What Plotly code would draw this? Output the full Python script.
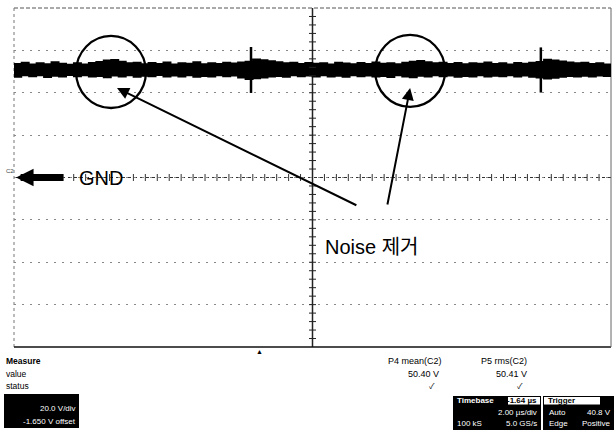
import plotly.graph_objects as go

# ---------------- data read from the screen capture ----------------
# time axis in microseconds (2 us/div, 10 divisions), voltage in V (20 V/div)
env_t = [-10.0, -9.75, -9.5, -9.25, -9.0, -8.75, -8.5, -8.25, -8.0,
         -7.75, -7.5, -7.25, -7.0, -6.75, -6.5, -6.25, -6.0, -5.75,
         -5.5, -5.25, -5.0, -4.75, -4.5, -4.25, -4.0, -3.75, -3.5,
         -3.25, -3.0, -2.75, -2.5, -2.25, -2.0, -1.75, -1.5, -1.25,
         -1.0, -0.75, -0.5, -0.25, 0.0,
         0.25, 0.5, 0.75, 1.0, 1.25, 1.5, 1.75, 2.0, 2.25,
         2.5, 2.75, 3.0, 3.25, 3.5, 3.75, 4.0, 4.25, 4.5,
         4.75, 5.0, 5.25, 5.5, 5.75, 6.0, 6.25, 6.5, 6.75,
         7.0, 7.25, 7.5, 7.75, 8.0, 8.25, 8.5, 8.75, 9.0,
         9.25, 9.5, 9.75, 10.0]

env_upper = [53.7, 54.3, 53.4, 54.0, 53.6, 54.5, 53.8, 53.3, 54.1,
             53.5, 54.2, 54.6, 55.3, 55.6, 54.8, 54.0, 54.3, 53.6,
             54.2, 53.7, 54.4, 53.5, 54.0, 53.8, 54.5, 53.6, 54.1,
             53.7, 54.3, 53.9, 54.4, 54.7, 55.8, 55.4, 55.0, 54.5,
             54.0, 54.3, 53.7, 54.2, 53.8,
             54.1, 53.5, 54.3, 53.9, 53.6, 54.2, 53.7, 54.4, 53.8,
             54.1, 53.6, 54.3, 54.8, 55.1, 54.5, 54.0, 54.3, 53.7,
             54.2, 53.6, 54.0, 53.8, 54.4, 53.7, 54.1, 53.5, 54.2,
             53.8, 54.3, 54.6, 55.7, 55.3, 54.9, 54.4, 54.0, 54.3,
             53.7, 54.0, 53.5, 53.8]

env_lower = [48.0, 47.4, 48.2, 47.7, 48.1, 47.3, 47.9, 47.6, 48.3,
             47.7, 48.1, 47.5, 47.8, 47.2, 48.0, 47.6, 48.2, 47.4,
             47.9, 47.7, 48.3, 47.5, 48.0, 47.6, 48.1, 47.4, 47.8,
             47.6, 48.2, 47.7, 48.0, 47.1, 46.4, 46.7, 47.1, 47.5,
             47.8, 47.4, 48.1, 47.7, 48.0,
             47.5, 48.2, 47.6, 47.9, 47.4, 48.1, 47.7, 48.0, 47.5,
             47.8, 47.3, 48.1, 47.6, 47.2, 47.9, 47.5, 48.1, 47.7,
             48.0, 47.4, 47.8, 47.6, 48.2, 47.5, 47.9, 47.7, 48.1,
             47.6, 48.0, 47.4, 47.1, 46.6, 47.0, 47.4, 47.8, 47.5,
             47.9, 47.6, 48.0, 47.8]

spike_t = [-2.06, 7.65]
spike_hi = [61.6, 61.4]
spike_lo = [39.9, 40.1]

meas_names = ["P4 mean(C2)", "P5 rms(C2)"]
meas_values = ["50.40 V", "50.41 V"]

FONT = "Liberation Sans, Arial, Noto Sans CJK KR, sans-serif"

# ---------------- figure ----------------
fig = go.Figure()

# noise band of the trace
fig.add_trace(go.Scatter(
    x=env_t + env_t[::-1], y=env_upper + env_lower[::-1],
    mode="lines", fill="toself", fillcolor="black", line_shape="hv",
    line=dict(color="black", width=1.5), hoverinfo="skip"))

# switching spikes
for t, hi, lo in zip(spike_t, spike_hi, spike_lo):
    fig.add_trace(go.Scatter(x=[t, t], y=[lo, hi], mode="lines",
                             line=dict(color="black", width=2.5), hoverinfo="skip"))

# centre-axis tick marks (graticule decoration)
vt = [v * 4 for v in range(-19, 20) if v != 0]
ht = [v * 0.4 for v in range(-24, 25) if v != 0]
fig.add_trace(go.Scatter(x=[0] * len(vt), y=vt, mode="markers",
                         marker=dict(symbol="line-ew", size=5,
                                     line=dict(color="#222", width=1)),
                         hoverinfo="skip"))
fig.add_trace(go.Scatter(x=ht, y=[0] * len(ht), mode="markers",
                         marker=dict(symbol="line-ns", size=5,
                                     line=dict(color="#333", width=1)),
                         hoverinfo="skip"))

shapes = [
    # centre vertical axis
    dict(type="line", xref="x", yref="paper", x0=0, x1=0, y0=0, y1=1,
         line=dict(color="#222", width=1.5), layer="below"),
    # GND / centre horizontal axis
    dict(type="line", xref="paper", yref="y", x0=0, x1=1, y0=0, y1=0,
         line=dict(color="#333", width=1, dash="dot"), layer="below"),
    # borders
    dict(type="line", xref="paper", yref="paper", x0=0, x1=1, y0=1, y1=1,
         line=dict(color="#555", width=1, dash="4px,2px"), layer="below"),
    dict(type="line", xref="paper", yref="paper", x0=0, x1=0, y0=0, y1=1,
         line=dict(color="#777", width=1, dash="3px,3px"), layer="below"),
    dict(type="line", xref="paper", yref="paper", x0=0, x1=1, y0=0, y1=0,
         line=dict(color="#111", width=1.5), layer="below"),
    dict(type="line", xref="paper", yref="paper", x0=1, x1=1, y0=0, y1=1,
         line=dict(color="#666", width=1), layer="below"),
    # circles marking the noise
    dict(type="circle", xref="x", yref="y", x0=-7.92, x1=-5.58, y0=32.8, y1=66.8,
         line=dict(color="black", width=2.3)),
    dict(type="circle", xref="x", yref="y", x0=2.10, x1=4.44, y0=33.3, y1=67.3,
         line=dict(color="black", width=2.3)),
]


def py(p):
    return (347 - p) / 339.0


def px(p):
    return (p - 14) / 597.0


# bottom info boxes
shapes += [
    dict(type="rect", xref="paper", yref="paper", x0=px(4), x1=px(79), y0=py(428), y1=py(394),
         fillcolor="black", line=dict(width=0)),
    dict(type="rect", xref="paper", yref="paper", x0=px(453), x1=px(541), y0=py(430), y1=py(396),
         fillcolor="black", line=dict(width=0)),
    dict(type="rect", xref="paper", yref="paper", x0=px(508), x1=px(540), y0=py(404.5), y1=py(397),
         fillcolor="white", line=dict(width=0)),
    dict(type="rect", xref="paper", yref="paper", x0=px(543), x1=px(614), y0=py(430), y1=py(396),
         fillcolor="black", line=dict(width=0)),
    dict(type="rect", xref="paper", yref="paper", x0=px(544), x1=px(600), y0=py(404.5), y1=py(397),
         fillcolor="white", line=dict(width=0)),
]

ann = []


def txt(x, y, s, size=8, color="black", anchor="left", bold=False):
    ann.append(dict(xref="paper", yref="paper", x=px(x), y=py(y), text=("<b>%s</b>" % s) if bold else s,
                    showarrow=False, xanchor=anchor, yanchor="middle",
                    font=dict(family=FONT, size=size, color=color)))


# arrows to the circles
ann.append(dict(xref="x", yref="y", axref="x", ayref="y", x=-6.55, y=42.2, ax=1.52, ay=-13.45,
                text="", showarrow=True, arrowhead=2, arrowsize=1.2, arrowwidth=2, arrowcolor="black"))
ann.append(dict(xref="x", yref="y", axref="x", ayref="y", x=3.27, y=42.2, ax=2.50, ay=-13.45,
                text="", showarrow=True, arrowhead=2, arrowsize=1.2, arrowwidth=2, arrowcolor="black"))
# GND arrow
ann.append(dict(xref="x", yref="y", x=-9.93, y=0, ax=49, ay=0, text="", showarrow=True,
                arrowhead=2, arrowsize=0.5, arrowwidth=7, arrowcolor="black"))
ann.append(dict(xref="x", yref="y", x=-7.89, y=0, text="GND", showarrow=False, xanchor="left",
                yanchor="middle", font=dict(family=FONT, size=20, color="black")))
ann.append(dict(xref="x", yref="y", x=0.35, y=-32.8, text="Noise 제거", showarrow=False,
                xanchor="left", yanchor="middle", font=dict(family=FONT, size=20, color="black")))
ann.append(dict(xref="paper", yref="y", x=px(4), y=3, text="C2", showarrow=False, xanchor="left",
                yanchor="middle", font=dict(family=FONT, size=6, color="#444")))

# trigger position marker
txt(259, 351, "▲", size=7, anchor="center")

# measurement area
txt(4, 361, "Measure", size=8.5, bold=True)
txt(4, 374, "value", size=8.5)
txt(4, 386, "status", size=8.5)
txt(78, 409, "20.0 V/div", size=8, color="white", anchor="right")
txt(78, 421, "-1.650 V offset", size=8, color="white", anchor="right")

name_x = [386, 479]
val_x = [441, 529]
for nm, vl, nx, vx in zip(meas_names, meas_values, name_x, val_x):
    txt(nx, 361, nm, size=9)
    txt(vx, 374, vl, size=9, anchor="right")
    txt(vx - 4, 386, "✓", size=8, anchor="right")

txt(455, 400.5, "Timebase", size=8, color="white", bold=True)
txt(539, 400.5, "-1.64 µs", size=8, color="black", anchor="right", bold=True)
txt(539, 412, "2.00 µs/div", size=8, color="white", anchor="right")
txt(455, 423, "100 kS", size=8, color="white")
txt(539, 423, "5.0 GS/s", size=8, color="white", anchor="right")
txt(546, 400.5, "Trigger", size=8, color="black", bold=True)
txt(547, 412, "Auto", size=8, color="white")
txt(613, 412, "40.8 V", size=8, color="white", anchor="right")
txt(547, 423, "Edge", size=8, color="white")
txt(613, 423, "Positive", size=8, color="white", anchor="right")

fig.update_layout(
    width=614, height=430,
    margin=dict(l=14, r=3, t=8, b=83, pad=0),
    plot_bgcolor="white", paper_bgcolor="white",
    showlegend=False,
    shapes=shapes, annotations=ann,
    xaxis=dict(range=[-10, 10], showgrid=False, zeroline=False, showticklabels=False,
               ticks="", showline=False, fixedrange=True),
    yaxis=dict(range=[-80, 80], dtick=20, showgrid=True, gridcolor="#888", gridwidth=1,
               griddash="2px,6px", zeroline=False, showticklabels=False, ticks="",
               showline=False, fixedrange=True),
    font=dict(family=FONT),
)

fig.write_html("out.html")
